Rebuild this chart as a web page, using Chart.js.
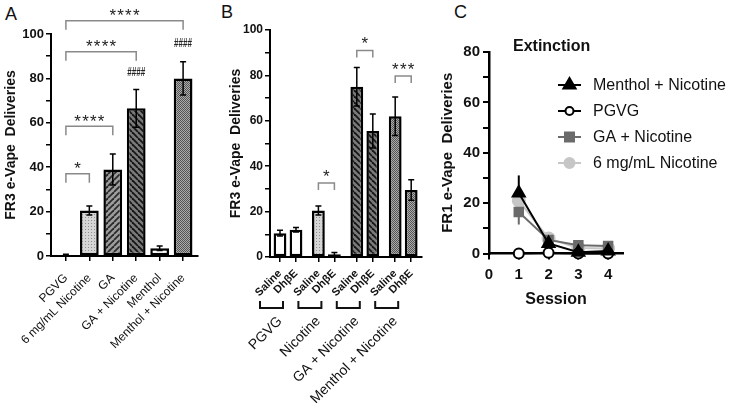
<!DOCTYPE html>
<html lang="en">
<head>
<meta charset="utf-8">
<title>e-Vape deliveries</title>
<script src="https://cdn.jsdelivr.net/npm/chart.js@4.4.1/dist/chart.umd.min.js"></script>
<style>
  html, body { margin: 0; padding: 0; background: #fff; }
  body { width: 730px; height: 403px; position: relative; overflow: hidden; font-family: Arial, "Liberation Sans", sans-serif; }
  canvas { position: absolute; top: 0; }
  .panel { position: absolute; font-size: 18px; line-height: 18px; color: #111; }
</style>
</head>
<body>
<div class="panel" style="left:5px;top:5px">A</div>
<div class="panel" style="left:221px;top:3px">B</div>
<div class="panel" style="left:454px;top:3px">C</div>
<canvas id="chartA" width="222" height="403" style="left:0"></canvas>
<canvas id="chartB" width="218" height="403" style="left:222px"></canvas>
<canvas id="chartC" width="290" height="403" style="left:440px"></canvas>
<script>
// panel A: FR3 deliveries by e-liquid
const aLabels = ['PGVG', '6 mg/mL Nicotine', 'GA', 'GA + Nicotine', 'Menthol', 'Menthol + Nicotine']
const aMeans = [0.5, 20.5, 39, 66.5, 3.5, 80]
const aSem = [0.3, 2, 7, 8.5, 1, 7.5]

// panel B: saline vs DhβE pretreatment
const bGroups = ['PGVG', 'Nicotine', 'GA + Nicotine', 'Menthol + Nicotine']
const bTreatments = ['Saline', 'DhβE']
const bSaline = [10.5, 20.5, 75, 62]
const bSalineSem = [1.3, 2, 8.5, 8.5]
const bDhbe = [12, 1.2, 55.5, 29.5]
const bDhbeSem = [1, 0.8, 7.5, 4.5]

// panel C: extinction sessions
const cSessions = [1, 2, 3, 4]
const cMenthol = [24, 4, 0.5, 1]
const cMentholSem = [7, 1.2, 0.5, 0.5]
const cPgvg = [0, 0.3, 0, 0]
const cGa = [16.5, 5.4, 3.3, 3]
const cGaSem = [5, 1.5, 0.8, 0.8]
const cNic = [21, 6, 2.2, 2]
const cNicSem = [3, 1.5, 0.8, 0.8]

// significance marks (y in data units)
const aBrackets = [
  { from: 0, to: 1, top: 37, text: '*' },
  { from: 0, to: 2, top: 58.5, text: '****' },
  { from: 0, to: 3, top: 92, text: '****' },
  { from: 0, to: 5, top: 106, text: '****' }
]
const aHashes = [{ at: 3, y: 83 }, { at: 5, y: 96 }]
const bBrackets = [
  { group: 1, top: 32.6, text: '*' },
  { group: 2, top: 91, text: '*' },
  { group: 3, top: 79.7, text: '***' }
]

const FONT = 'Arial, "Liberation Sans", Helvetica, sans-serif'
Chart.defaults.font.family = FONT
Chart.defaults.color = '#111'

function tile(size, bg, paint) {
  const c = document.createElement('canvas')
  c.width = c.height = size
  const g = c.getContext('2d')
  g.fillStyle = bg
  g.fillRect(0, 0, size, size)
  paint(g, size)
  return g.createPattern(c, 'repeat')
}
function stripes(bg, ink, dir) {
  return tile(6, bg, (g, s) => {
    g.strokeStyle = ink
    g.lineWidth = 1.8
    for (let k = -1; k <= 1; k++) {
      g.beginPath()
      if (dir > 0) { g.moveTo(k * s, s); g.lineTo(k * s + s, 0) }
      else { g.moveTo(k * s, 0); g.lineTo(k * s + s, s) }
      g.stroke()
    }
  })
}
const white = '#fff'
const dots = tile(3, '#d6d6d6', g => { g.fillStyle = '#8e8e8e'; g.fillRect(1, 1, 1, 1) })
const gaFill = stripes('#9c9c9c', '#2a2a2a', 1)
const gaNicFill = stripes('#7a7a7a', '#151515', -1)
const hlines = tile(4, '#fff', g => { g.fillStyle = '#aaa'; g.fillRect(0, 2, 4, 1) })
const checker = tile(2, '#ababab', g => { g.fillStyle = '#555'; g.fillRect(0, 0, 1, 1); g.fillRect(1, 1, 1, 1) })

function errorBars(hook) {
  return {
    id: 'errorBars',
    [hook](chart) {
      const { ctx, scales: { y } } = chart
      ctx.save()
      chart.data.datasets.forEach((ds, di) => {
        if (!ds.errors) return
        chart.getDatasetMeta(di).data.forEach((el, i) => {
          const v = ds.data[i].y, e = ds.errors[i]
          if (!e) return
          const top = y.getPixelForValue(v + e), bot = y.getPixelForValue(v - e)
          ctx.strokeStyle = ds.errorColor || '#000'
          ctx.lineWidth = ds.errorWidth || 1.5
          ctx.beginPath()
          ctx.moveTo(el.x, top)
          ctx.lineTo(el.x, bot)
          if (ds.cap) {
            ctx.moveTo(el.x - ds.cap, top); ctx.lineTo(el.x + ds.cap, top)
            ctx.moveTo(el.x - ds.cap, bot); ctx.lineTo(el.x + ds.cap, bot)
          }
          ctx.stroke()
        })
      })
      ctx.restore()
    }
  }
}

function drawBracket(ctx, x1, x2, yTop, leg, text, gap) {
  ctx.strokeStyle = '#8a8a8a'
  ctx.lineWidth = 1.5
  ctx.beginPath()
  ctx.moveTo(x1, yTop + leg)
  ctx.lineTo(x1, yTop)
  ctx.lineTo(x2, yTop)
  ctx.lineTo(x2, yTop + leg)
  ctx.stroke()
  ctx.fillStyle = '#222'
  ctx.font = '17px ' + FONT
  ctx.textAlign = 'center'
  ctx.textBaseline = 'alphabetic'
  const cx = (x1 + x2) / 2, n = text.length
  for (let k = 0; k < n; k++) {
    ctx.fillText('*', cx + (k - (n - 1) / 2) * 7.8, yTop - gap + 9.5)
  }
}

function yAxis(max, width, title, tickSize, titlePad) {
  return {
    min: 0, max: max,
    afterFit: s => { s.width = width },
    ticks: { stepSize: 10, callback: v => v % 20 === 0 ? v : '', font: { size: tickSize, weight: 'bold' }, color: '#111', padding: 2 },
    grid: { drawOnChartArea: false, color: '#000', tickLength: 5, lineWidth: 1.5 },
    border: { color: '#000', width: 2 },
    title: { display: true, text: title, font: { size: 14, weight: 'bold' }, color: '#111', padding: { top: titlePad, bottom: 0 } }
  }
}

// ---------- A ----------
const marksA = {
  id: 'marksA',
  afterDraw(chart) {
    const { ctx, scales: { x, y } } = chart
    ctx.save()
    aBrackets.forEach(b => {
      drawBracket(ctx, x.getPixelForValue(b.from), x.getPixelForValue(b.to), y.getPixelForValue(b.top), 9, b.text, 9)
    })
    ctx.fillStyle = '#222'
    ctx.font = 'bold 12px ' + FONT
    ctx.textAlign = 'center'
    ctx.textBaseline = 'alphabetic'
    aHashes.forEach(h => {
      ctx.fillText('####', x.getPixelForValue(h.at), y.getPixelForValue(h.y) + 4.5, 18)
    })
    ctx.restore()
  }
}

new Chart(document.getElementById('chartA'), {
  type: 'bar',
  data: {
    datasets: [{
      data: aMeans.map((v, i) => ({ x: i, y: v })),
      errors: aSem,
      cap: 3,
      backgroundColor: [white, dots, gaFill, gaNicFill, hlines, checker],
      borderColor: '#000',
      borderWidth: 2.5,
      borderSkipped: false,
      categoryPercentage: 1,
      barPercentage: 0.8
    }]
  },
  options: {
    responsive: false,
    animation: false,
    layout: { padding: { top: 34, right: 24, left: 0, bottom: 0 } },
    plugins: { legend: { display: false }, tooltip: { enabled: false } },
    scales: {
      x: {
        type: 'linear', min: -0.636, max: 5.636, offset: false,
        afterBuildTicks: s => { s.ticks = aLabels.map((_, i) => ({ value: i })) },
        afterFit: s => { s.height = 147 },
        ticks: { callback: (v, i) => aLabels[i], minRotation: 45, maxRotation: 45, autoSkip: false, font: { size: 12 }, color: '#111', padding: 10 },
        grid: { offset: false, drawOnChartArea: false, color: '#000', tickLength: 5, lineWidth: 1.5 },
        border: { color: '#000', width: 2 }
      },
      y: yAxis(100, 51, 'FR3 e-Vape  Deliveries', 13, 3)
    }
  },
  plugins: [errorBars('afterDatasetsDraw'), marksA]
})

// ---------- B ----------
const bPos = (g, t) => g * 2.4 + t
const bFills = [white, dots, gaNicFill, checker]
const bValues = bGroups.flatMap((_, g) => [bSaline[g], bDhbe[g]])
const bErrors = bGroups.flatMap((_, g) => [bSalineSem[g], bDhbeSem[g]])

const marksB = {
  id: 'marksB',
  afterDraw(chart) {
    const { ctx, scales: { x, y } } = chart
    ctx.save()
    bBrackets.forEach(b => {
      drawBracket(ctx, x.getPixelForValue(bPos(b.group, 0)), x.getPixelForValue(bPos(b.group, 1)), y.getPixelForValue(b.top), 7, b.text, 10.5)
    })
    const base = y.getPixelForValue(0)
    ctx.strokeStyle = '#111'
    ctx.lineWidth = 2
    ctx.fillStyle = '#111'
    ctx.font = '14px ' + FONT
    ctx.textAlign = 'right'
    ctx.textBaseline = 'middle'
    bGroups.forEach((name, g) => {
      const mid = (x.getPixelForValue(bPos(g, 0)) + x.getPixelForValue(bPos(g, 1))) / 2
      const left = mid - 28, right = mid - 5
      ctx.beginPath()
      ctx.moveTo(left, base + 44)
      ctx.lineTo(left, base + 51)
      ctx.lineTo(right, base + 51)
      ctx.lineTo(right, base + 44)
      ctx.stroke()
      ctx.save()
      ctx.translate(right - 3, base + 62)
      ctx.rotate(-Math.PI / 4)
      ctx.fillText(name, 0, 0)
      ctx.restore()
    })
    ctx.restore()
  }
}

new Chart(document.getElementById('chartB'), {
  type: 'bar',
  data: {
    datasets: [{
      data: bValues.map((v, i) => ({ x: bPos(Math.floor(i / 2), i % 2), y: v })),
      errors: bErrors,
      cap: 3,
      backgroundColor: bValues.map((_, i) => bFills[Math.floor(i / 2)]),
      borderColor: '#000',
      borderWidth: 2.5,
      borderSkipped: false,
      categoryPercentage: 1,
      barPercentage: 0.8
    }]
  },
  options: {
    responsive: false,
    animation: false,
    layout: { padding: { top: 30, right: 18, left: 0, bottom: 0 } },
    plugins: { legend: { display: false }, tooltip: { enabled: false } },
    scales: {
      x: {
        type: 'linear', min: -0.625, max: 8.875, offset: false,
        afterBuildTicks: s => { s.ticks = bValues.map((_, i) => ({ value: bPos(Math.floor(i / 2), i % 2) })) },
        afterFit: s => { s.height = 146 },
        ticks: { callback: (v, i) => bTreatments[i % 2], minRotation: 45, maxRotation: 45, autoSkip: false, font: { size: 11, weight: 'bold' }, color: '#111', padding: 5 },
        grid: { offset: false, drawOnChartArea: false, color: '#000', tickLength: 5, lineWidth: 1.5 },
        border: { color: '#000', width: 2 }
      },
      y: yAxis(100, 48, 'FR3 e-Vape  Deliveries', 12, 6)
    }
  },
  plugins: [errorBars('afterDatasetsDraw'), marksB]
})

// ---------- C ----------
const cLines = [
  { label: 'Menthol + Nicotine', values: cMenthol, errors: cMentholSem, color: '#000', fill: '#000', style: 'triangle', radius: 7 },
  { label: 'PGVG', values: cPgvg, errors: null, color: '#000', fill: '#fff', style: 'circle', radius: 5 },
  { label: 'GA + Nicotine', values: cGa, errors: cGaSem, color: '#6b6b6b', fill: '#6b6b6b', style: 'rect', radius: 6 },
  { label: '6 mg/mL Nicotine', values: cNic, errors: cNicSem, color: '#c6c6c6', fill: '#c6c6c6', style: 'circle', radius: 6 }
]

function marker(ctx, s, x, y) {
  ctx.fillStyle = s.fill
  ctx.strokeStyle = s.color
  ctx.lineWidth = 2
  ctx.beginPath()
  if (s.style === 'triangle') {
    const r = s.radius
    ctx.moveTo(x, y - r)
    ctx.lineTo(x + r * 0.87, y + r * 0.5)
    ctx.lineTo(x - r * 0.87, y + r * 0.5)
    ctx.closePath()
  } else if (s.style === 'rect') {
    const h = s.radius * 0.75
    ctx.rect(x - h, y - h, h * 2, h * 2)
  } else {
    ctx.arc(x, y, s.radius - 1, 0, Math.PI * 2)
  }
  ctx.fill()
  ctx.stroke()
}

const legendC = {
  id: 'legendC',
  afterDraw(chart) {
    const { ctx, chartArea: a } = chart
    ctx.save()
    ctx.fillStyle = '#111'
    ctx.font = 'bold 16px ' + FONT
    ctx.textAlign = 'left'
    ctx.textBaseline = 'middle'
    ctx.fillText('Extinction', a.left + 24, a.top - 5)
    ctx.font = '16px ' + FONT
    cLines.forEach((s, i) => {
      const cx = a.left + 80.5, cy = a.top + 33 + i * 26
      ctx.strokeStyle = s.color
      ctx.lineWidth = 2
      ctx.beginPath()
      ctx.moveTo(cx - 11.5, cy)
      ctx.lineTo(cx + 11.5, cy)
      ctx.stroke()
      marker(ctx, s, cx, cy)
      ctx.fillStyle = '#111'
      ctx.fillText(s.label, a.left + 104, cy + 1)
    })
    ctx.restore()
  }
}

new Chart(document.getElementById('chartC'), {
  type: 'line',
  data: {
    datasets: cLines.map(s => ({
      label: s.label,
      data: cSessions.map((x, i) => ({ x: x, y: s.values[i] })),
      errors: s.errors,
      errorColor: s.color,
      errorWidth: 2,
      borderColor: s.color,
      backgroundColor: s.fill,
      pointBackgroundColor: s.fill,
      pointBorderColor: s.color,
      pointStyle: s.style,
      pointRadius: s.radius,
      pointBorderWidth: 2,
      borderWidth: 2,
      clip: false
    }))
  },
  options: {
    responsive: false,
    animation: false,
    layout: { padding: { top: 52, right: 107, left: 0, bottom: 0 } },
    plugins: { legend: { display: false }, tooltip: { enabled: false } },
    scales: {
      x: {
        type: 'linear', min: 0, max: 4.5,
        afterBuildTicks: s => { s.ticks = [0, 1, 2, 3, 4].map(v => ({ value: v })) },
        afterFit: s => { s.height = 149.5 },
        ticks: { font: { size: 15, weight: 'bold' }, color: '#111', padding: 6 },
        grid: { drawOnChartArea: false, color: '#000', tickLength: 6, lineWidth: 2 },
        border: { color: '#000', width: 2.5 },
        title: { display: true, text: 'Session', font: { size: 16, weight: 'bold' }, color: '#111', padding: { top: 4, bottom: 94 } }
      },
      y: {
        min: 0, max: 80,
        afterFit: s => { s.width = 49 },
        ticks: { stepSize: 10, callback: v => v % 20 === 0 ? v : '', font: { size: 15, weight: 'bold' }, color: '#111', padding: 3 },
        grid: { drawOnChartArea: false, color: '#000', tickLength: 6, lineWidth: 2 },
        border: { color: '#000', width: 2.5 },
        title: { display: true, text: 'FR1 e-Vape  Deliveries', font: { size: 15, weight: 'bold', lineHeight: 1 }, color: '#111', padding: { top: 0, bottom: 0 } }
      }
    }
  },
  plugins: [errorBars('beforeDatasetsDraw'), legendC]
})
</script>
</body>
</html>
